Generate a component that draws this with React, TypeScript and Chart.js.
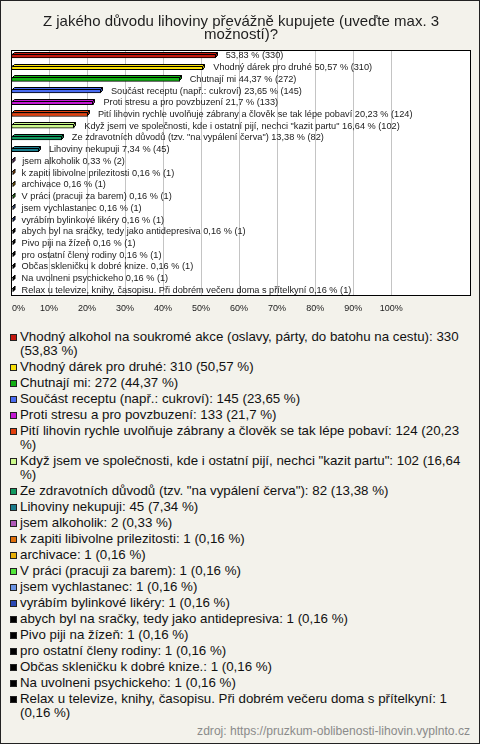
import React, { useEffect, useRef } from 'react';
import { Chart, registerables } from 'chart.js';

Chart.register(...registerables);

const titleLines = ['Z jakého důvodu lihoviny převážně kupujete (uveďte max. 3', 'možností)?'];

const categories = [
  'Vhodný alkohol na soukromé akce (oslavy, párty, do batohu na cestu)',
  'Vhodný dárek pro druhé',
  'Chutnají mi',
  'Součást receptu (např.: cukroví)',
  'Proti stresu a pro povzbuzení',
  'Pití lihovin rychle uvolňuje zábrany a člověk se tak lépe pobaví',
  'Když jsem ve společnosti, kde i ostatní pijí, nechci "kazit partu"',
  'Ze zdravotních důvodů (tzv. "na vypálení červa")',
  'Lihoviny nekupuji',
  'jsem alkoholik',
  'k zapiti libivolne prilezitosti',
  'archivace',
  'V práci (pracuji za barem)',
  'jsem vychlastanec',
  'vyrábím bylinkové likéry',
  'abych byl na sračky, tedy jako antidepresiva',
  'Pivo piji na žízeň',
  'pro ostatní členy rodiny',
  'Občas skleničku k dobré knize.',
  'Na uvolneni psychickeho',
  'Relax u televize, knihy, časopisu. Při dobrém večeru doma s přítelkyní',
];

const counts = [330, 310, 272, 145, 133, 124, 102, 82, 45, 2, 1, 1, 1, 1, 1, 1, 1, 1, 1, 1, 1];

const percents = [53.83, 50.57, 44.37, 23.65, 21.7, 20.23, 16.64, 13.38, 7.34, 0.33, 0.16, 0.16, 0.16, 0.16, 0.16, 0.16, 0.16, 0.16, 0.16, 0.16, 0.16];

const colors = [
  '#c4190e', '#f8e00a', '#14b014', '#4a6cf0', '#c41ad4', '#e2400e', '#ccfa8c',
  '#129a60', '#1a7c8c', '#b05ab8', '#e0700c', '#e8b008', '#52e63a', '#6a94e4',
  '#2a48b4', '#000000', '#000000', '#000000', '#000000', '#000000', '#000000',
];

// rows whose bar label omits the category name
const barLabelWithoutName = [0];

const xTickValues = [0, 10, 20, 30, 40, 50, 60, 70, 80, 90, 100];
const xMax = 121;

const sourceText = 'zdroj: https://pruzkum-oblibenosti-lihovin.vyplnto.cz';

const fmt = (v: number) => String(v).replace('.', ',');
const tickText = (v: number) => `${v}%`;

const barLabel = (i: number) =>
  (barLabelWithoutName.includes(i) ? '' : categories[i] + ' ') + `${fmt(percents[i])} % (${counts[i]})`;

const legendLabel = (i: number) => `${categories[i]}: ${counts[i]} (${fmt(percents[i])} %)`;

function shade(hex: string, f: number) {
  const n = parseInt(hex.slice(1), 16);
  const r = Math.round(((n >> 16) & 255) * f);
  const g = Math.round(((n >> 8) & 255) * f);
  const b = Math.round((n & 255) * f);
  return `rgb(${r},${g},${b})`;
}

const DEPTH = 2;
const FONT = '"Liberation Sans", Arial, sans-serif';
const TICK_FONT_SIZE = 9;
const TICK_PADDING = 7;

const plotBoxPlugin = {
  id: 'plotBox',
  beforeDraw(chart: any) {
    const { ctx, chartArea: a } = chart;
    ctx.save();
    ctx.fillStyle = '#ffffff';
    ctx.fillRect(a.left, a.top, a.right - a.left, a.bottom - a.top);
    ctx.restore();
  },
  afterDraw(chart: any) {
    const { ctx, chartArea: a } = chart;
    ctx.save();
    ctx.strokeStyle = '#000000';
    ctx.lineWidth = 1;
    ctx.strokeRect(Math.round(a.left) + 0.5, Math.round(a.top) + 0.5, Math.round(a.right - a.left) - 1, Math.round(a.bottom - a.top) - 1);
    // first tick label ("0%") is left-aligned at the axis origin
    const xs = chart.scales.x;
    ctx.fillStyle = '#222222';
    ctx.font = `${TICK_FONT_SIZE}px ${FONT}`;
    ctx.textAlign = 'left';
    ctx.textBaseline = 'middle';
    ctx.fillText(tickText(xTickValues[0]), xs.getPixelForValue(xTickValues[0]) + 1, xs.top + TICK_PADDING + (TICK_FONT_SIZE * 1.2) / 2);
    ctx.restore();
  },
};

const bar3dPlugin = {
  id: 'bar3d',
  afterDatasetsDraw(chart: any) {
    const { ctx } = chart;
    const meta = chart.getDatasetMeta(0);
    ctx.save();
    ctx.lineWidth = 1;
    ctx.strokeStyle = '#000000';
    meta.data.forEach((el: any, i: number) => {
      const { x, y, base, height } = el.getProps(['x', 'y', 'base', 'height'], true);
      const top = Math.round(y - height / 2) + 0.5;
      const bottom = Math.round(y + height / 2) - 0.5;
      const left = Math.round(base) + 0.5;
      const right = Math.round(x) - 0.5 < left ? left + 0.5 : Math.round(x) - 0.5;
      // top face
      ctx.fillStyle = colors[i];
      ctx.beginPath();
      ctx.moveTo(left, top);
      ctx.lineTo(left + DEPTH, top - DEPTH);
      ctx.lineTo(right + DEPTH, top - DEPTH);
      ctx.lineTo(right, top);
      ctx.closePath();
      ctx.fill();
      ctx.stroke();
      // side face
      ctx.fillStyle = shade(colors[i], 0.7);
      ctx.beginPath();
      ctx.moveTo(right, top);
      ctx.lineTo(right + DEPTH, top - DEPTH);
      ctx.lineTo(right + DEPTH, bottom - DEPTH);
      ctx.lineTo(right, bottom);
      ctx.closePath();
      ctx.fill();
      ctx.stroke();
      // label
      ctx.fillStyle = '#1a1a1a';
      ctx.font = `9.2px ${FONT}`;
      ctx.textBaseline = 'middle';
      ctx.textAlign = 'left';
      ctx.fillText(barLabel(i), x + DEPTH + 8, y);
    });
    ctx.restore();
  },
};

function BarChart() {
  const ref = useRef<HTMLCanvasElement | null>(null);
  useEffect(() => {
    if (!ref.current) return;
    const chart = new Chart(ref.current, {
      type: 'bar',
      data: {
        labels: categories,
        datasets: [
          {
            data: percents,
            backgroundColor: colors,
            borderColor: '#000000',
            borderWidth: 1,
            borderSkipped: false,
            barThickness: 4,
          },
        ],
      },
      options: {
        indexAxis: 'y',
        animation: false,
        responsive: false,
        maintainAspectRatio: false,
        layout: { padding: { left: 10, right: 8, top: 0, bottom: 6 } },
        plugins: {
          legend: { display: false },
          tooltip: { enabled: false },
          title: {
            display: true,
            text: titleLines,
            color: '#1e1e1e',
            font: { family: FONT, size: 15, weight: 'normal', lineHeight: 13.3 / 15 },
            padding: { top: 14, bottom: 8.4 },
          },
        },
        scales: {
          x: {
            type: 'linear',
            min: 0,
            max: xMax,
            afterBuildTicks: (scale: any) => {
              scale.ticks = xTickValues.map((v) => ({ value: v }));
            },
            ticks: {
              autoSkip: false,
              maxRotation: 0,
              padding: TICK_PADDING,
              color: '#222222',
              font: { family: FONT, size: TICK_FONT_SIZE },
              // the first label is drawn by plotBoxPlugin (left-aligned)
              callback: (v: any) => (v === xTickValues[0] ? '' : tickText(v)),
            },
            grid: { color: '#c4c4c4', drawTicks: false, lineWidth: 1 },
            border: { display: false },
          },
          y: {
            type: 'category',
            display: false,
            grid: { display: false },
          },
        },
      },
      plugins: [plotBoxPlugin, bar3dPlugin],
    } as any);
    return () => chart.destroy();
  }, []);
  return <canvas ref={ref} width={478} height={326} style={{ display: 'block', width: 478, height: 326 }} />;
}

export default function App() {
  useEffect(() => {
    document.body.style.margin = '0';
  }, []);
  return (
    <div
      style={{
        width: 480,
        height: 744,
        boxSizing: 'border-box',
        border: '1px solid #222',
        background: '#f3f2eb',
        position: 'relative',
        fontFamily: FONT,
        overflow: 'hidden',
      }}
    >
      <BarChart />
      <div style={{ position: 'absolute', top: 329, left: 9, width: 461 }}>
        {categories.map((c, i) => (
          <div key={c} style={{ display: 'flex', alignItems: 'flex-start', marginBottom: 2 }}>
            <span
              style={{
                flex: '0 0 auto',
                width: 7,
                height: 7,
                marginTop: 3.5,
                marginRight: 3,
                boxSizing: 'border-box',
                border: '1px solid #222',
                background: colors[i],
              }}
            />
            <span style={{ fontSize: 13.3, lineHeight: '14px', color: '#111' }}>{legendLabel(i)}</span>
          </div>
        ))}
      </div>
      <div
        style={{
          position: 'absolute',
          right: 9,
          top: 723,
          fontSize: 12.1,
          lineHeight: '14px',
          color: '#8a8a8a',
        }}
      >
        {sourceText}
      </div>
    </div>
  );
}
